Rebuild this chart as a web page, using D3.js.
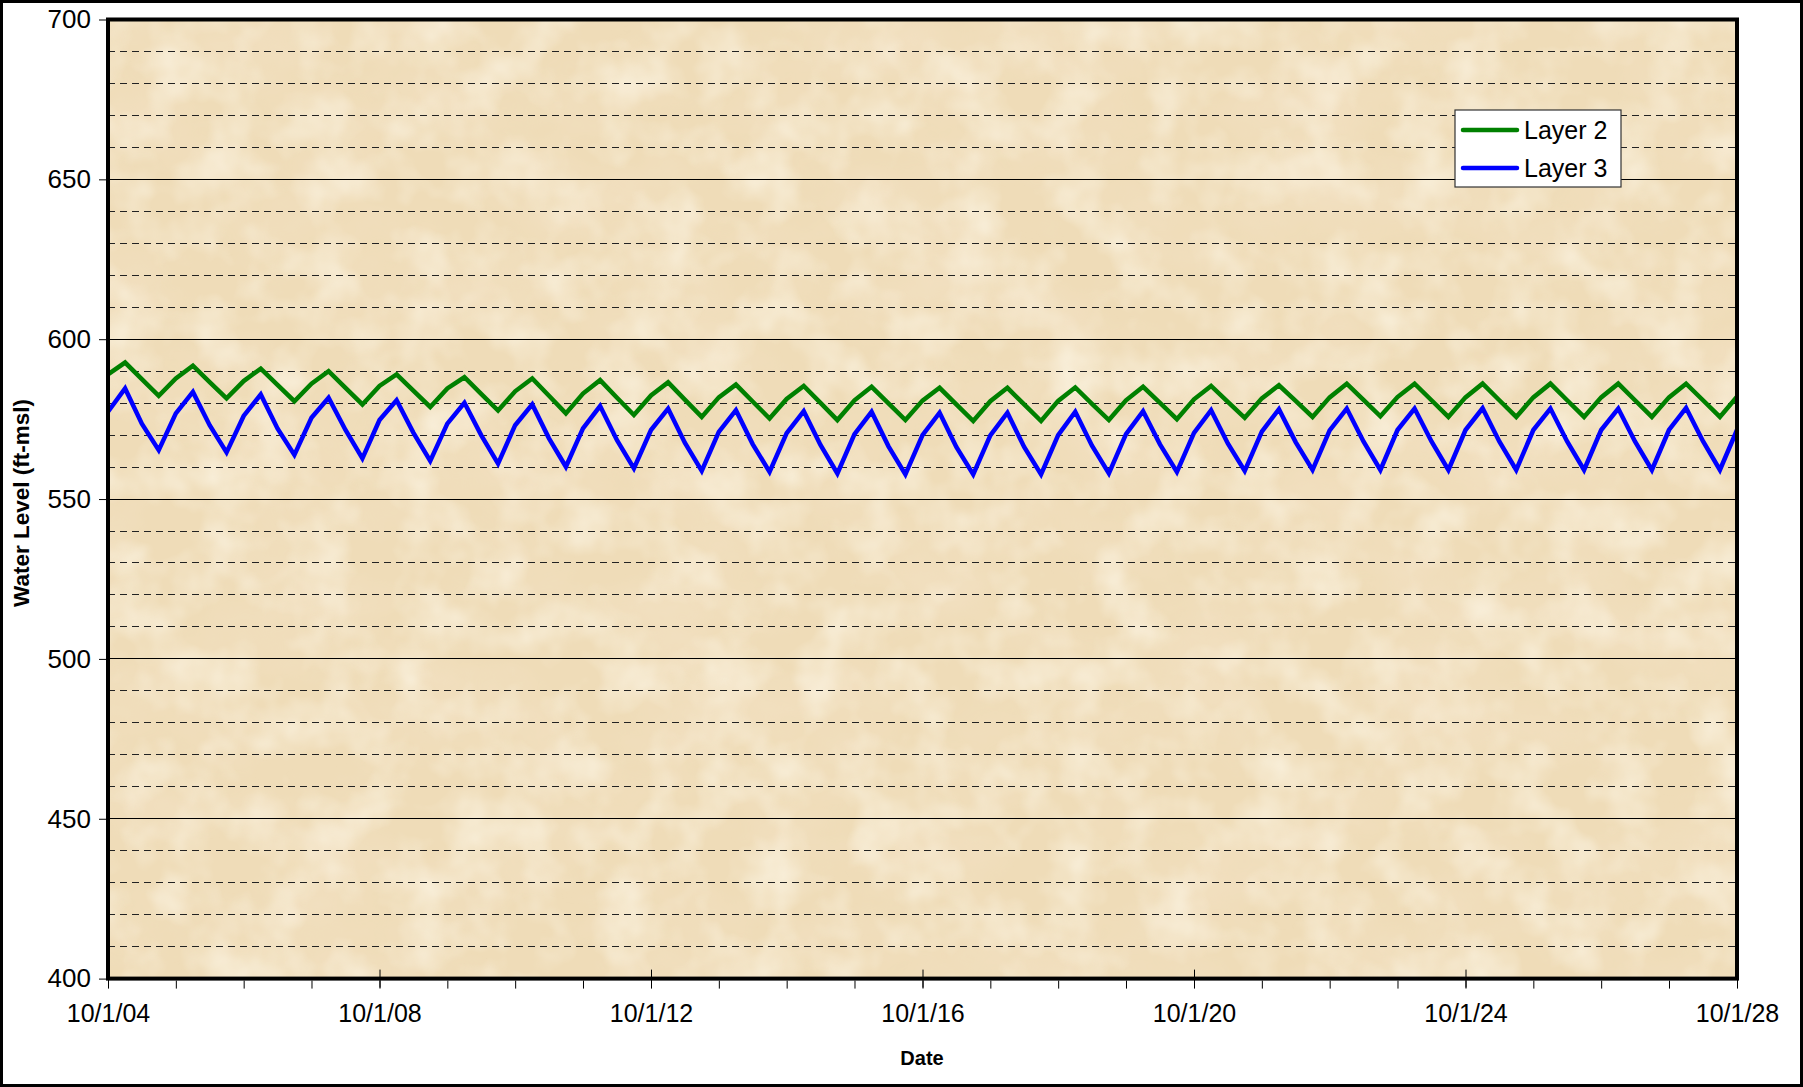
<!DOCTYPE html>
<html>
<head>
<meta charset="utf-8">
<script src="https://cdn.jsdelivr.net/npm/d3@7"></script>
<style>
  html, body { margin: 0; padding: 0; background: #fff; }
  svg { display: block; font-family: "Liberation Sans", Arial, sans-serif; }
</style>
</head>
<body>
<svg id="chart" width="1803" height="1087"></svg>
<script>
// ---------- DATA (quarterly readings starting 10/1/2004) ----------
const startDate = new Date(2004, 9, 1);
const seriesNames = ["Layer 2", "Layer 3"];
const seriesColors = ["#008000", "#0000FF"];

const layer2 = [
  589.0,
  592.7, 587.5, 582.3, 587.7,
  591.7, 586.6, 581.5, 586.9,
  590.8, 585.7, 580.6, 586.1,
  590.0, 584.8, 579.6, 585.4,
  589.0, 583.9, 578.8, 584.6,
  588.1, 582.9, 577.7, 583.7,
  587.7, 582.3, 576.8, 583.0,
  587.2, 581.7, 576.3, 582.4,
  586.5, 581.1, 575.7, 581.8,
  585.8, 580.5, 575.2, 581.3,
  585.4, 580.1, 574.7, 580.9,
  585.1, 579.9, 574.7, 580.8,
  584.8, 579.6, 574.4, 580.6,
  584.8, 579.6, 574.4, 580.7,
  584.9, 579.8, 574.7, 580.9,
  585.1, 580.1, 575.0, 581.2,
  585.4, 580.4, 575.4, 581.5,
  585.6, 580.7, 575.7, 581.8,
  586.1, 581.0, 575.9, 581.9,
  586.1, 580.9, 575.7, 581.8,
  586.1, 580.9, 575.7, 581.8,
  586.1, 580.9, 575.7, 581.8,
  586.1, 580.9, 575.7, 581.8,
  586.1, 580.9, 575.7, 582.0
];

const layer3 = [
  577.3,
  584.6, 573.6, 565.3, 576.8,
  583.5, 573.1, 564.6, 576.0,
  582.7, 572.1, 563.8, 575.4,
  581.7, 571.6, 562.7, 574.7,
  580.9, 570.8, 561.9, 573.6,
  580.1, 570.0, 561.1, 573.1,
  579.6, 569.0, 560.1, 572.1,
  579.1, 568.4, 559.6, 571.6,
  578.3, 567.6, 558.8, 571.0,
  577.8, 567.2, 558.5, 570.6,
  577.5, 566.9, 558.0, 570.3,
  577.3, 566.5, 557.7, 570.0,
  577.0, 566.3, 557.7, 569.9,
  577.0, 566.3, 557.7, 570.0,
  577.3, 566.7, 558.0, 570.3,
  577.5, 567.1, 558.5, 570.7,
  577.8, 567.4, 558.8, 571.1,
  578.1, 567.8, 559.1, 571.5,
  578.3, 568.0, 559.1, 571.6,
  578.3, 568.0, 559.1, 571.6,
  578.4, 568.0, 559.1, 571.6,
  578.3, 568.0, 559.1, 571.6,
  578.3, 568.0, 559.1, 571.6,
  578.5, 568.1, 559.1, 571.6
];

const xMajorYears = [2004, 2008, 2012, 2016, 2020, 2024, 2028];
const xMinorYears = d3.range(2004, 2029);
const yDomain = [400, 700];
const yMajorTicks = [400, 450, 500, 550, 600, 650, 700];
const yMinorTicks = [410,420,430,440,460,470,480,490,510,520,530,540,560,570,580,590,610,620,630,640,660,670,680,690];
const xAxisTitle = "Date";
const yAxisTitle = "Water Level (ft-msl)";

// ---------- LAYOUT ----------
const svg = d3.select("#chart");
const W = 1803, H = 1087;
const plot = { left: 108, right: 1737, top: 19.5, bottom: 978.6 };

const dates = layer2.map((_, i) => d3.timeMonth.offset(startDate, 3 * i));
const x = d3.scaleTime()
  .domain([startDate, new Date(2028, 9, 1)])
  .range([plot.left, plot.right]);
const y = d3.scaleLinear().domain(yDomain).range([plot.bottom, plot.top]);

// outer frame
svg.append("rect").attr("x", 1.5).attr("y", 1.5).attr("width", W - 3).attr("height", H - 3)
  .attr("fill", "#fff").attr("stroke", "#000").attr("stroke-width", 3);

// parchment texture
const defs = svg.append("defs");
const filt = defs.append("filter").attr("id", "parch")
  .attr("x", 0).attr("y", 0).attr("width", 1).attr("height", 1);
filt.append("feTurbulence").attr("type", "fractalNoise")
  .attr("baseFrequency", "0.008 0.012").attr("numOctaves", 4).attr("seed", 7).attr("result", "noise");
filt.append("feColorMatrix").attr("in", "noise").attr("type", "matrix")
  .attr("values", "0 0 0 0 0.90  0 0 0 0 0.76  0 0 0 0 0.56  1.3 0 0 0 -0.52")
  .attr("result", "tint");
filt.append("feComposite").attr("in", "tint").attr("in2", "SourceGraphic").attr("operator", "in");

const filt2 = defs.append("filter").attr("id", "parch2")
  .attr("x", 0).attr("y", 0).attr("width", 1).attr("height", 1);
filt2.append("feTurbulence").attr("type", "fractalNoise")
  .attr("baseFrequency", "0.02 0.02").attr("numOctaves", 3).attr("seed", 3).attr("result", "noise");
filt2.append("feColorMatrix").attr("in", "noise").attr("type", "matrix")
  .attr("values", "0 0 0 0 0.99  0 0 0 0 0.95  0 0 0 0 0.84  1.2 0 0 0 -0.5")
  .attr("result", "tint");
filt2.append("feComposite").attr("in", "tint").attr("in2", "SourceGraphic").attr("operator", "in");

svg.append("rect").attr("x", plot.left).attr("y", plot.top)
  .attr("width", plot.right - plot.left).attr("height", plot.bottom - plot.top)
  .attr("fill", "#EFDCB8");
svg.append("rect").attr("x", plot.left).attr("y", plot.top)
  .attr("width", plot.right - plot.left).attr("height", plot.bottom - plot.top)
  .attr("fill", "#fff").attr("filter", "url(#parch)");
svg.append("rect").attr("x", plot.left).attr("y", plot.top)
  .attr("width", plot.right - plot.left).attr("height", plot.bottom - plot.top)
  .attr("fill", "#fff").attr("filter", "url(#parch2)");

// gridlines
const grid = svg.append("g");
grid.selectAll("line.minor").data(yMinorTicks).enter().append("line")
  .attr("x1", plot.left).attr("x2", plot.right)
  .attr("y1", d => y(d)).attr("y2", d => y(d))
  .attr("stroke", "#222").attr("stroke-width", 1).attr("stroke-dasharray", "7,5")
  .attr("shape-rendering", "crispEdges");
grid.selectAll("line.major").data(yMajorTicks.filter(d => d > yDomain[0] && d < yDomain[1])).enter().append("line")
  .attr("x1", plot.left).attr("x2", plot.right)
  .attr("y1", d => y(d)).attr("y2", d => y(d))
  .attr("stroke", "#000").attr("stroke-width", 1)
  .attr("shape-rendering", "crispEdges");

// series lines
const lineGen = d3.line().x((d, i) => x(dates[i])).y(d => y(d));
[layer3, layer2].forEach((s, k) => {
  svg.append("path").datum(s)
    .attr("d", lineGen)
    .attr("fill", "none")
    .attr("stroke", k === 0 ? seriesColors[1] : seriesColors[0])
    .attr("stroke-width", 4.5)
    .attr("stroke-linejoin", "miter");
});

// plot border
svg.append("rect").attr("x", plot.left).attr("y", plot.top)
  .attr("width", plot.right - plot.left).attr("height", plot.bottom - plot.top)
  .attr("fill", "none").attr("stroke", "#000").attr("stroke-width", 4);

// y axis
const yAxis = d3.axisLeft(y).tickValues(yMajorTicks).tickSize(7).tickPadding(8).tickFormat(d3.format("d"));
const gy = svg.append("g").attr("transform", `translate(${plot.left - 2},0)`).call(yAxis);
gy.select(".domain").remove();
gy.selectAll("text").attr("font-size", 26).attr("fill", "#000")
  .attr("font-family", "'Liberation Sans', Arial, sans-serif");
gy.selectAll("line").attr("stroke", "#000");

// x axis
const xFmt = d3.timeFormat("%-m/%-d/%y");
const majorDates = xMajorYears.map(yr => new Date(yr, 9, 1));
const minorDates = xMinorYears.map(yr => new Date(yr, 9, 1));
const xAxisMinor = d3.axisBottom(x).tickValues(minorDates).tickSize(8).tickFormat("");
const gxm = svg.append("g").attr("transform", `translate(0,${plot.bottom + 2})`).call(xAxisMinor);
gxm.select(".domain").remove();
gxm.selectAll("line").attr("stroke", "#000");

const xAxis = d3.axisBottom(x).tickValues(majorDates).tickSize(9).tickPadding(17).tickFormat(xFmt);
const gx = svg.append("g").attr("transform", `translate(0,${plot.bottom})`).call(xAxis);
gx.select(".domain").remove();
gx.selectAll("line").attr("stroke", "#000").attr("y1", -9);
gx.selectAll("text").attr("font-size", 25).attr("fill", "#000")
  .attr("font-family", "'Liberation Sans', Arial, sans-serif");

// axis titles
svg.append("text").attr("x", 922).attr("y", 1065).attr("text-anchor", "middle")
  .attr("font-size", 20).attr("font-weight", "bold").text(xAxisTitle);
svg.append("text").attr("transform", `translate(29,503) rotate(-90)`)
  .attr("text-anchor", "middle").attr("font-size", 22.5).attr("font-weight", "bold").text(yAxisTitle);

// legend
const lg = svg.append("g").attr("transform", "translate(1455,110)");
lg.append("rect").attr("x", 0).attr("y", 0).attr("width", 166).attr("height", 77)
  .attr("fill", "#fff").attr("stroke", "#333").attr("stroke-width", 1.2);
seriesNames.forEach((name, i) => {
  const cy = 20 + i * 38;
  lg.append("line").attr("x1", 8).attr("x2", 62).attr("y1", cy).attr("y2", cy)
    .attr("stroke", seriesColors[i]).attr("stroke-width", 4.5).attr("stroke-linecap", "round");
  lg.append("text").attr("x", 69).attr("y", cy + 9).attr("font-size", 25).attr("fill", "#000").text(name);
});
</script>
</body>
</html>
